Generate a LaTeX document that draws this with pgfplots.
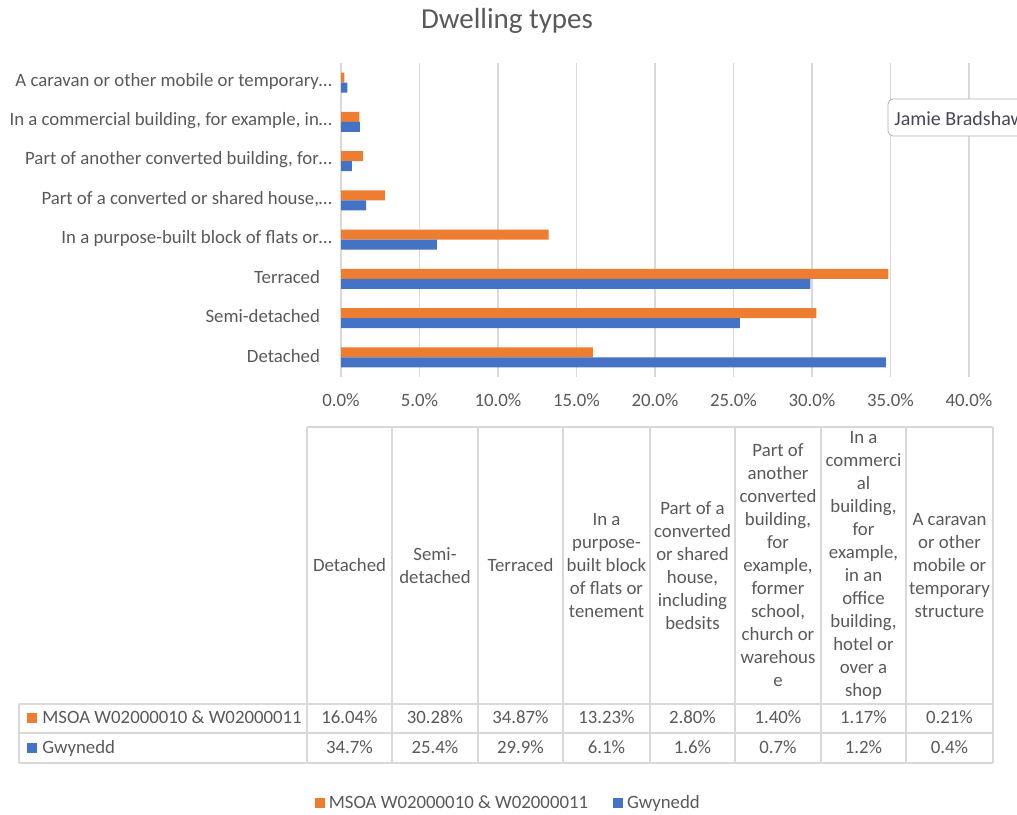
\documentclass[border=0pt]{standalone}
\usepackage{fontspec}
\setmainfont{Carlito}
\usepackage{pgfplots}
\pgfplotsset{compat=1.18}
\definecolor{txt}{HTML}{595959}
\definecolor{gridc}{HTML}{D9D9D9}
\definecolor{tabc}{HTML}{D9D9D9}
\definecolor{orng}{HTML}{ED7D31}
\definecolor{blu}{HTML}{4472C4}
\definecolor{tipc}{HTML}{464655}
\newcommand{\fs}{\fontsize{9.4}{11.5}\selectfont}
\begin{document}
\begin{tikzpicture}[x=0.5pt,y=-0.5pt]
\path[use as bounding box] (0,0) rectangle (1017,814);
\clip (0,0) rectangle (1017,814);
\node[anchor=base, text=txt, font=\fontsize{14.5}{16}\selectfont] at (507,28) {Dwelling types};
\begin{axis}[
  at={(170.5pt,-188.5pt)}, anchor=south west,
  width=314pt, height=157pt, scale only axis,
  xbar, bar width=5pt,
  xmin=0, xmax=40, ymin=-0.5, ymax=7.5,
  enlargelimits=false,
  xtick={0,5,...,40},
  xticklabels={0.0\%,5.0\%,10.0\%,15.0\%,20.0\%,25.0\%,30.0\%,35.0\%,40.0\%},
  ytick={0,...,7},
  yticklabels={Detached\hspace*{6pt}, Semi-detached\hspace*{6pt}, Terraced\hspace*{6pt}, In a purpose-built block of flats or…, {Part of a converted or shared house,…}, {Part of another converted building, for…}, {In a commercial building, for example, in…}, A caravan or other mobile or temporary…},
  xmajorgrids, grid style={gridc, line width=0.6pt},
  axis line style={draw=none},
  major tick length=0pt, tick style={draw=none},
  ticklabel style={font=\fs, text=txt},
  xticklabel style={yshift=-5pt},
  yticklabel style={xshift=-1pt, yshift=0.8pt},
  legend style={at={(axis description cs:0.268,-1.358)}, anchor=center, legend columns=2, draw=none, fill=none, font=\fs, text=txt, /tikz/every even column/.append style={column sep=10.5pt}},
  legend image code/.code={\fill[#1] (0pt,-2.5pt) rectangle (5pt,2.5pt);},
]
\addplot[fill=orng, draw=none, bar shift=2.5pt] coordinates {(16.04,0) (30.28,1) (34.87,2) (13.23,3) (2.80,4) (1.40,5) (1.17,6) (0.21,7)};
\addplot[fill=blu, draw=none, bar shift=-2.5pt] coordinates {(34.7,0) (25.4,1) (29.9,2) (6.1,3) (1.6,4) (0.7,5) (1.2,6) (0.4,7)};
\legend{MSOA W02000010 \& W02000011, Gwynedd}
\end{axis}
% tooltip
\draw[rounded corners=2.5pt, draw=gray!60, fill=white] (888,99) rectangle (1040,136);
\node[anchor=base west, inner sep=0, font=\fontsize{10}{12}\selectfont, text=tipc] at (894,125) {Jamie Bradshaw};
% table grid
\begin{scope}[tabc, line width=0.7pt]
\draw (307,427) -- (993,427);
\foreach \y in {704,733,763} \draw (19,\y) -- (993,\y);
\foreach \x in {307,392,478,563,650,735,821,906,993} \draw (\x,427) -- (\x,763);
\draw (19,704) -- (19,763);
\end{scope}
\begin{scope}[every node/.style={align=center, text=txt, font=\fs, inner sep=0pt}]
\node at (349.5,565.5) {Detached};
\node at (435,565.5) {Semi-\\detached};
\node at (520.5,565.5) {Terraced};
\node at (606.5,565.5) {In a\\purpose-\\built block\\of flats or\\tenement};
\node at (692.5,565.5) {Part of a\\converted\\or shared\\house,\\including\\bedsits};
\node at (778,565.5) {Part of\\another\\converted\\building,\\for\\example,\\former\\school,\\church or\\warehous\\e};
\node at (863.5,565.5) {In a\\commerci\\al\\building,\\for\\example,\\in an\\office\\building,\\hotel or\\over a\\shop};
\node at (949.5,565.5) {A caravan\\or other\\mobile or\\temporary\\structure};
\end{scope}
\begin{scope}[every node/.style={anchor=base, text=txt, font=\fs, inner sep=0pt}]
\foreach \x/\v in {349.5/16.04, 435/30.28, 520.5/34.87, 606.5/13.23, 692.5/2.80, 778/1.40, 863.5/1.17, 949.5/0.21}
  \node at (\x,723) {\v\%};
\foreach \x/\v in {349.5/34.7, 435/25.4, 520.5/29.9, 606.5/6.1, 692.5/1.6, 778/0.7, 863.5/1.2, 949.5/0.4}
  \node at (\x,753) {\v\%};
\end{scope}
\fill[orng] (27,713) rectangle (37,723);
\fill[blu] (27,743) rectangle (37,753);
\node[anchor=base west, inner sep=0, text=txt, font=\fs] at (42,723) {MSOA W02000010 \& W02000011};
\node[anchor=base west, inner sep=0, text=txt, font=\fs] at (42,753) {Gwynedd};
\end{tikzpicture}
\end{document}
